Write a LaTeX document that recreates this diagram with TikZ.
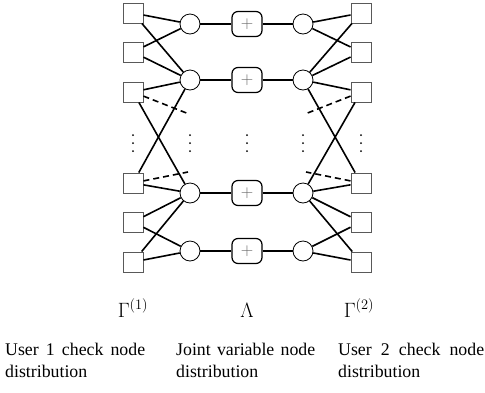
\documentclass[tikz,border=0pt]{standalone}
\usepackage{fontspec}
\setmainfont{Liberation Serif}
\begin{document}
\begin{tikzpicture}[x=1pt,y=-1pt,
  chk/.style={draw=black!65,line width=0.9pt,minimum size=20pt,inner sep=0pt,fill=white},
  var/.style={circle,draw=black,line width=0.8pt,minimum size=20pt,inner sep=0pt,fill=white},
  pls/.style={draw=black,line width=1.2pt,rounded corners=6pt,minimum width=30pt,minimum height=25pt,inner sep=0pt,fill=white,text=black!60,font=\fontsize{18}{20}\selectfont},
  edge/.style={line width=1.6pt},
  dedge/.style={line width=1.6pt,dash pattern=on 6pt off 4pt},
  lbl/.style={font=\fontsize{17.8}{22}\selectfont,inner sep=0pt},
  mlbl/.style={font=\fontsize{21.5}{24}\selectfont,inner sep=0pt},
  dot/.style={fill=black}]
\useasboundingbox (0,0) rectangle (485,392);
% check nodes
\foreach \i/\y in {1/13,2/52,3/92,4/183,5/222,6/262}{
  \node[chk] (l\i) at (133,\y) {};
  \node[chk] (r\i) at (361,\y) {};
}
% variable nodes and joint (plus) nodes
\foreach \i/\y in {1/24,2/80,3/193,4/251}{
  \node[var] (a\i) at (190,\y) {};
  \node[var] (b\i) at (303,\y) {};
  \node[pls] (p\i) at (247,\y) {$+$};
}
\coordinate (dl3) at (189,114);
\coordinate (dl4) at (188,172);
\coordinate (dr3) at (305,114);
\coordinate (dr4) at (306,172);
% edges
\foreach \s/\c in {1/1,1/2,2/1,2/2,3/2,3/3,4/2,4/3,5/3,5/4,6/3,6/4}{
  \draw[edge] (l\s) -- (a\c);
  \draw[edge] (r\s) -- (b\c);
}
\foreach \c in {1,2,3,4}{
  \draw[edge] (a\c) -- (p\c);
  \draw[edge] (p\c) -- (b\c);
}
\draw[dedge] (l3) -- (dl3);
\draw[dedge] (l4) -- (dl4);
\draw[dedge] (r3) -- (dr3);
\draw[dedge] (r4) -- (dr4);
% vertical dots
\foreach \x in {133,190,247,303,361}{
  \foreach \y in {135,143,151}{
    \fill[dot] (\x,\y) circle (1pt);
  }
}
% labels
\node[mlbl,anchor=base] (g1) at (133,317) {$\Gamma^{(1)}$};
\node[mlbl,anchor=base] (lam) at (247,317) {$\Lambda$};
\node[mlbl,anchor=base] (g2) at (359,317) {$\Gamma^{(2)}$};
\node[lbl,anchor=base west] (t1a) at (5,355) {\makebox[140pt][s]{User 1 check node}};
\node[lbl,anchor=base west] (t1b) at (5,377) {distribution};
\node[lbl,anchor=base west] (t2a) at (176,355) {\makebox[139pt][s]{Joint variable node}};
\node[lbl,anchor=base west] (t2b) at (176,377) {distribution};
\node[lbl,anchor=base west] (t3a) at (338,355) {\makebox[146pt][s]{User 2 check node}};
\node[lbl,anchor=base west] (t3b) at (338,377) {distribution};
\end{tikzpicture}
\end{document}
